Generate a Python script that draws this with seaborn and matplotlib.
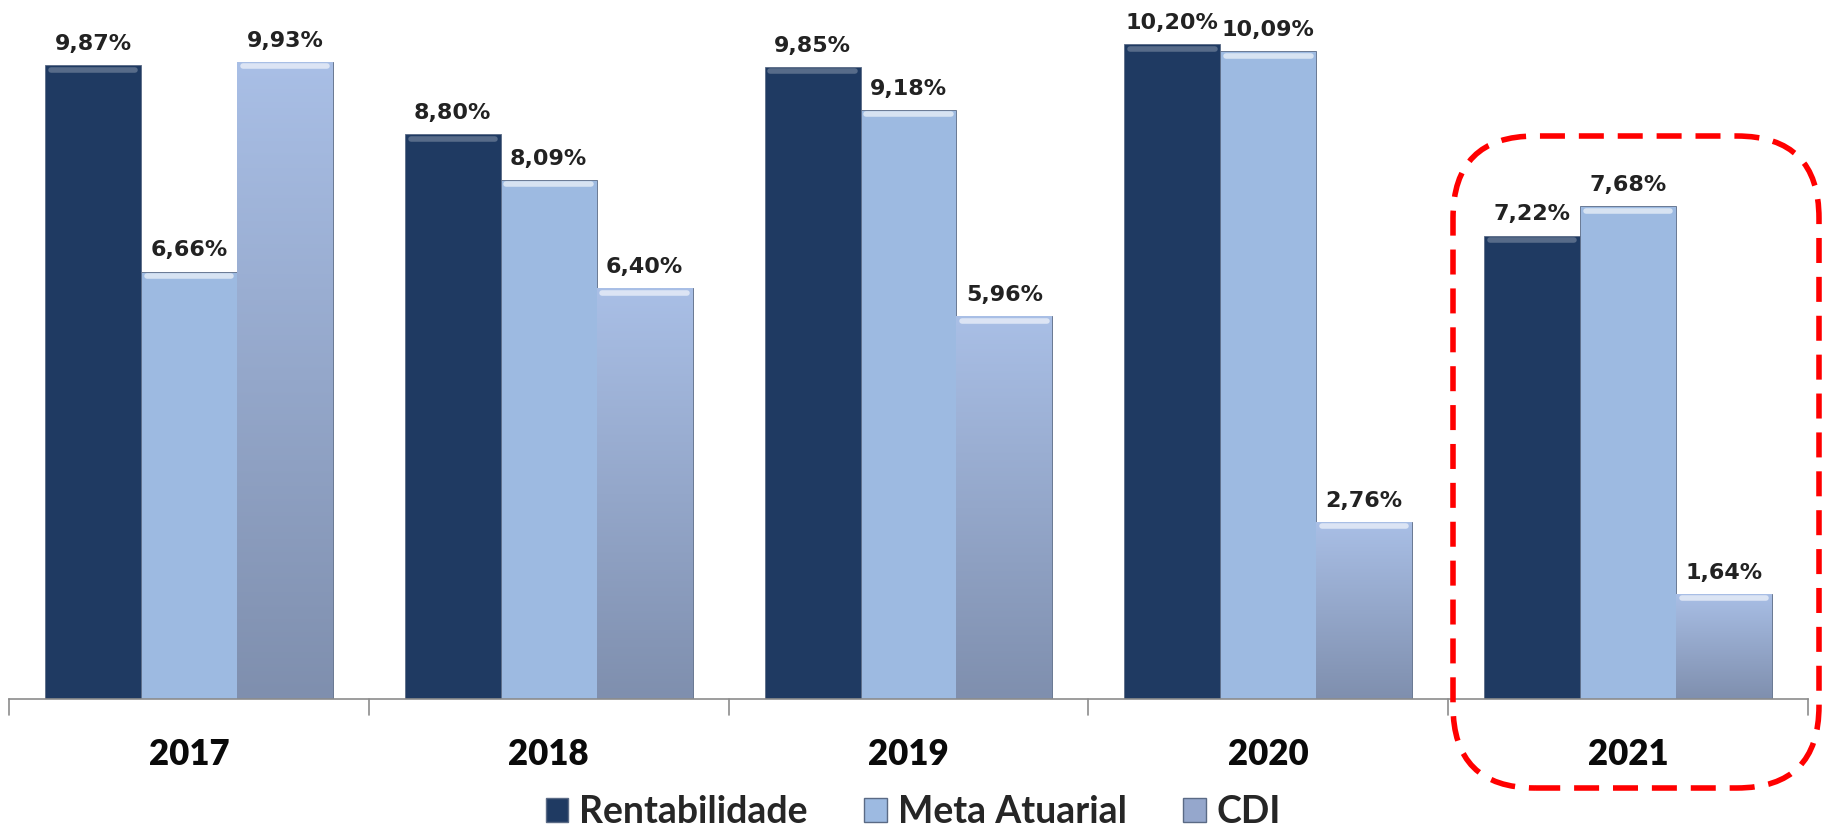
import numpy as np
import pandas as pd
import seaborn as sns
import matplotlib.pyplot as plt
from matplotlib.patches import FancyBboxPatch, Patch
from matplotlib.colors import LinearSegmentedColormap

# ── Data ───────────────────────────────────────────────────────────────
years = ["2017", "2018", "2019", "2020", "2021"]
rentabilidade = [9.87, 8.80, 9.85, 10.20, 7.22]
meta_atuarial = [6.66, 8.09, 9.18, 10.09, 7.68]
cdi = [9.93, 6.40, 5.96, 2.76, 1.64]
series = ["Rentabilidade", "Meta Atuarial", "CDI"]
colors = ["#1f3a62", "#9dbae1", "#95a7cc"]

df = pd.DataFrame({
    "ano": years * 3,
    "serie": np.repeat(series, len(years)),
    "valor": rentabilidade + meta_atuarial + cdi,
})

sns.set_theme(style="white")
plt.rcParams["font.family"] = ["Lato", "DejaVu Sans"]

fig = plt.figure(figsize=(18.27, 8.38), dpi=100)
ax = fig.add_axes([9 / 1827, 1 - 699 / 838, 1799 / 1827, 699 / 838])

sns.barplot(data=df, x="ano", y="valor", hue="serie", palette=colors,
            width=0.8, saturation=1, edgecolor="#5a6a85", linewidth=0.6, ax=ax)

ax.set_ylim(0, 10.89)
ax.set_xlim(-0.5, 4.5)

# ── Gradient on CDI bars ──────────────────────────────────────────────
grad = np.linspace(0, 1, 256).reshape(-1, 1)
cdi_cmap = LinearSegmentedColormap.from_list("cdi", ["#7f8fae", "#a9bfe6"])
for bar in ax.containers[2]:
    x0, y0 = bar.get_x(), bar.get_y()
    w, h = bar.get_width(), bar.get_height()
    im = ax.imshow(grad, extent=[x0, x0 + w, y0, y0 + h], origin="lower",
                   cmap=cdi_cmap, aspect="auto", zorder=bar.get_zorder())
    im.set_clip_path(bar)

# bevel highlight on top of bars
for cont, alpha in zip(ax.containers, [0.25, 0.6, 0.6]):
    for bar in cont:
        x0, w, h = bar.get_x(), bar.get_width(), bar.get_height()
        ax.plot([x0 + w * 0.06, x0 + w * 0.94], [h - 0.07, h - 0.07],
                color="white", alpha=alpha, lw=4, solid_capstyle="round", zorder=5)

# ── Value labels ──────────────────────────────────────────────────────
for cont in ax.containers:
    labels = [f"{b.get_height():.2f}%".replace(".", ",") for b in cont]
    ax.bar_label(cont, labels=labels, padding=8, fontsize=16,
                 fontweight="bold", color="#222222", family="DejaVu Sans")

# ── Axes styling ──────────────────────────────────────────────────────
sns.despine(ax=ax, left=True, top=True, right=True)
ax.spines["bottom"].set_color("#8c8c8c")
ax.spines["bottom"].set_linewidth(1.2)
ax.set_yticks([])
ax.set_xlabel("")
ax.set_ylabel("")
ax.set_xticks(range(len(years)))
ax.set_xticklabels(years, fontsize=25, fontweight="heavy", color="#0a0a0a")
ax.tick_params(axis="x", length=0, pad=28)
for b in np.arange(-0.5, 5.0, 1.0):
    ax.plot([b, b], [0, -0.25], color="#8c8c8c", lw=1.2, clip_on=False)

# ── Legend ────────────────────────────────────────────────────────────
ax.get_legend().remove()
handles = [Patch(facecolor=c, edgecolor="#5a6a85") for c in colors]
fig.legend(handles, series, loc="center", bbox_to_anchor=(0.5, 1 - 812 / 838),
           ncol=3, frameon=False, prop={"size": 27, "weight": "bold"},
           handlelength=0.6, handleheight=0.6, handletextpad=0.3,
           columnspacing=1.5)

# ── Red dashed highlight around 2021 ─────────────────────────────────
box = FancyBboxPatch((1453 / 1827, 1 - 788 / 838), 366 / 1827, 652 / 838,
                     boxstyle="round,pad=0,rounding_size=0.045",
                     transform=fig.transFigure, fill=False, edgecolor="#ff0000",
                     linewidth=4, linestyle=(0, (4.5, 2.5)), mutation_aspect=1827 / 838)
fig.patches.append(box)

fig.savefig("out.png", dpi=100)
